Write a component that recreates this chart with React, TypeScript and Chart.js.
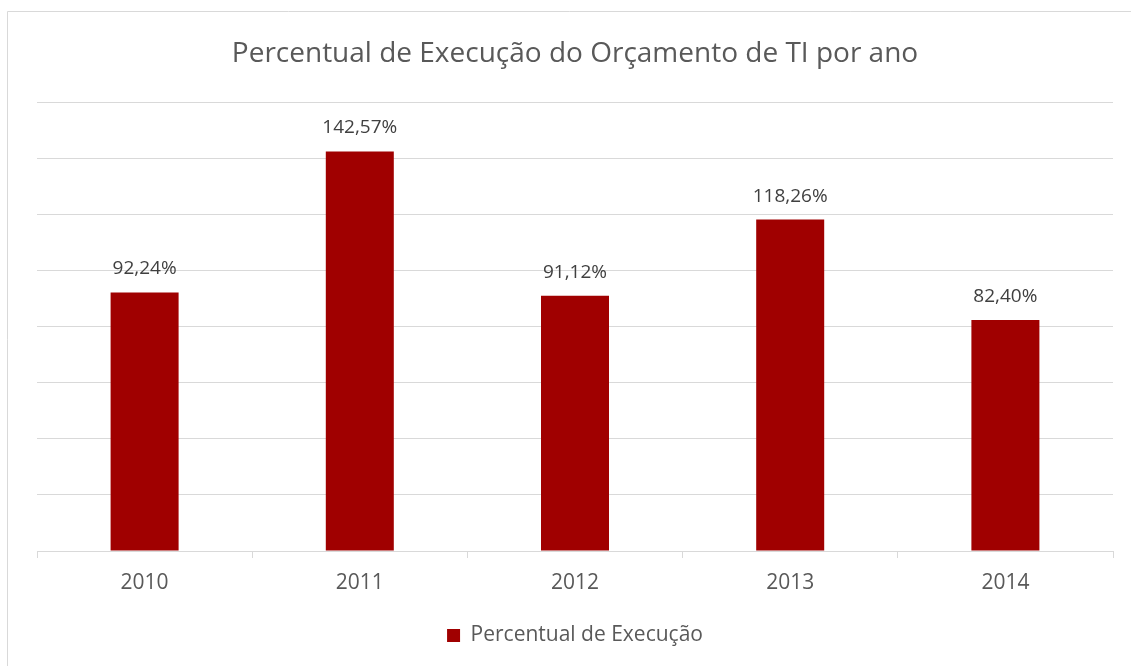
import React, { useEffect, useRef } from "react";
import { Chart, registerables } from "chart.js";

Chart.register(...registerables);

const categories = ["2010", "2011", "2012", "2013", "2014"];
const percentValues = [92.24, 142.57, 91.12, 118.26, 82.4];
const seriesName = "Percentual de Execução";
const chartTitle = "Percentual de Execução do Orçamento de TI por ano";
const yMax = 160;
const yStep = 20;

const FONT = "'Open Sans', sans-serif";
const BAR_COLOR = "#A00000";
const GRID = "#D9D9D9";
const TEXT = "#595959";

const framePlugin = {
  id: "frame",
  beforeDraw(chart: any) {
    const { ctx, width, height } = chart;
    ctx.save();
    ctx.fillStyle = "#ffffff";
    ctx.fillRect(0, 0, width, height);
    ctx.strokeStyle = GRID;
    ctx.lineWidth = 1;
    ctx.beginPath();
    ctx.moveTo(7.5, height + 2);
    ctx.lineTo(7.5, 11.5);
    ctx.lineTo(width + 2, 11.5);
    ctx.stroke();
    ctx.restore();
  },
};

const labelPlugin = {
  id: "valueLabels",
  afterDatasetsDraw(chart: any) {
    const { ctx } = chart;
    const meta = chart.getDatasetMeta(0);
    const data = chart.data.datasets[0].data as number[];
    ctx.save();
    ctx.font = `19px ${FONT}`;
    ctx.fillStyle = "#404040";
    ctx.textAlign = "center";
    ctx.textBaseline = "alphabetic";
    meta.data.forEach((bar: any, i: number) => {
      const txt = data[i].toFixed(2).replace(".", ",") + "%";
      ctx.fillText(txt, bar.x, bar.y - 18);
    });
    ctx.restore();
  },
};

export default function App() {
  const ref = useRef<HTMLCanvasElement | null>(null);
  useEffect(() => {
    if (!ref.current) return;
    const chart = new Chart(ref.current, {
      type: "bar",
      data: {
        labels: categories,
        datasets: [
          {
            label: seriesName,
            data: percentValues,
            backgroundColor: BAR_COLOR,
            borderWidth: 0,
            barPercentage: 0.316,
            categoryPercentage: 1,
          },
        ],
      },
      options: {
        animation: false,
        responsive: true,
        maintainAspectRatio: false,
        layout: { padding: { left: 37, right: 18, top: 0, bottom: 10 } },
        plugins: {
          title: {
            display: true,
            text: chartTitle,
            color: TEXT,
            font: { family: FONT, size: 28, weight: "normal" },
            padding: { top: 37, bottom: 32 },
          },
          legend: {
            display: true,
            position: "bottom",
            labels: {
              color: TEXT,
              font: { family: FONT, size: 21 },
              boxWidth: 13,
              boxHeight: 13,
              padding: 12,
            },
          },
          tooltip: { enabled: false },
        },
        scales: {
          x: {
            grid: {
              display: true,
              offset: true,
              drawOnChartArea: false,
              drawTicks: true,
              tickLength: 7,
              color: GRID,
            },
            border: { display: true, color: GRID },
            ticks: {
              color: TEXT,
              font: { family: FONT, size: 21 },
              padding: 12,
            },
            afterFit: (scale: any) => {
              scale.height = 62;
            },
          },
          y: {
            min: 0,
            max: yMax,
            ticks: { display: false, stepSize: yStep },
            grid: { color: GRID, drawTicks: false },
            border: { display: false },
          },
        },
      },
      plugins: [framePlugin, labelPlugin],
    });
    return () => chart.destroy();
  }, []);
  return (
    <div style={{ position: "absolute", left: 0, top: 0, width: 1131, height: 666 }}>
      <canvas ref={ref} />
    </div>
  );
}
